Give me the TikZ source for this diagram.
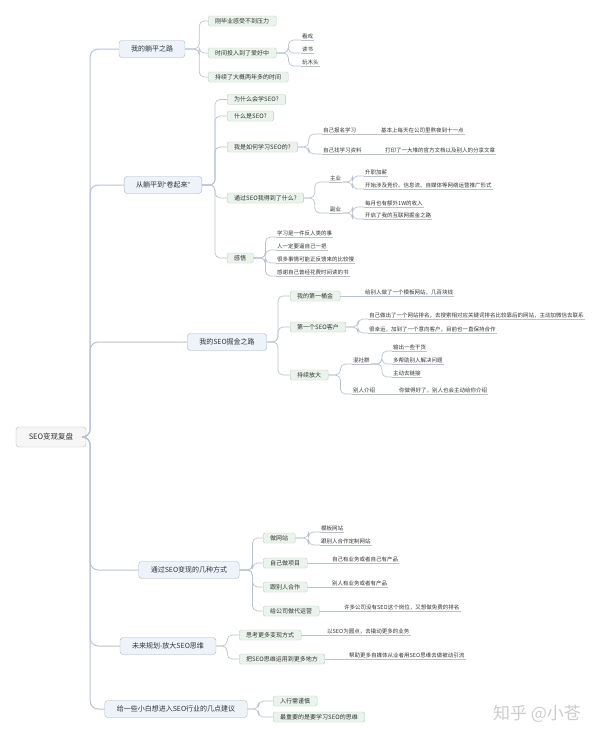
\documentclass[tikz,border=0pt]{standalone}
\usepackage{fontspec}
\setmainfont{Noto Sans CJK SC}
\newfontfamily\latinfont{Liberation Sans}
\usepackage{xcolor}
\usepackage{tikz}
\usetikzlibrary{positioning}
\definecolor{linkgray}{HTML}{B9C3D0}
\definecolor{topicfill}{HTML}{EEF3FA}
\definecolor{topicdraw}{HTML}{A7B5C8}
\definecolor{subfill}{HTML}{EBF4EC}
\definecolor{subdraw}{HTML}{B4CDB8}
\definecolor{txt}{HTML}{333333}

\begin{document}
\begin{tikzpicture}[
    x=1pt, y=-1pt,
    root/.style={draw=gray!55, fill=gray!7, rounded corners=3pt, minimum width=70pt, minimum height=20pt, inner sep=0pt, font=\fontsize{7.5}{9}\selectfont, text=txt},
    topic/.style={draw=topicdraw, fill=topicfill, rounded corners=3pt, minimum height=17pt, inner xsep=12pt, inner ysep=0pt, font=\fontsize{7}{8}\selectfont, text=txt},
    subtopic/.style={draw=subdraw, fill=subfill, rounded corners=1.5pt, minimum height=10pt, inner xsep=7pt, inner ysep=0pt, anchor=west, font=\fontsize{6}{7}\selectfont, text=txt},
    leaf/.style={inner xsep=1pt, inner ysep=1pt, anchor=south west, font=\fontsize{5.5}{6}\selectfont, text=txt},
    trunk/.style={draw=linkgray, line width=1pt, rounded corners=8pt},
    link/.style={draw=linkgray, line width=0.7pt, rounded corners=5pt},
    underline/.style={draw=linkgray, line width=0.6pt}
]
\useasboundingbox (0,0) rectangle (600,739);

% root and main topics
\node[root] (root) at (51,437) {SEO变现复盘};
\node[topic] (b1) at (152,49) {我的躺平之路};
\node[topic] (b2) at (163,185) {从躺平到{\latinfont “}卷起来{\latinfont ”}};
\node[topic] (b3) at (227,342) {我的SEO掘金之路};
\node[topic] (b4) at (189,570) {通过SEO变现的几种方式};
\node[topic] (b5) at (168,646) {未来规划-放大SEO思维};
\node[topic] (b6) at (176,709) {给一些小白想进入SEO行业的几点建议};

% branch 1
\node[subtopic] (c11) at (208,21) {刚毕业感受不到压力};
\node[subtopic] (c12) at (208,53) {时间投入到了爱好中};
\node[subtopic] (c13) at (208,77) {持续了大概两年多的时间};
\node[leaf] (l121) at (301,40) {看戏};
\node[leaf] (l122) at (301,53) {读书};
\node[leaf] (l123) at (301,66) {玩木头};

% branch 2
\node[subtopic] (c21) at (227,99.5) {为什么会学SEO?};
\node[subtopic] (c22) at (227,116) {什么是SEO?};
\node[subtopic] (c23) at (227,147) {我是如何学习SEO的?};
\node[subtopic] (c24) at (227,198) {通过SEO我得到了什么?};
\node[subtopic] (c25) at (227,258) {感悟};
\node[leaf] (l231) at (322,134) {自己报名学习};
\node[leaf] (l232) at (322,154) {自己找学习资料};
\node[leaf] (l2311) at (380,134) {基本上每天在公司里熬夜到十一点};
\node[leaf] (l2321) at (384,154) {打印了一大堆的官方文档以及别人的分享文章};
\node[leaf] (l241) at (329,182) {主业};
\node[leaf] (l242) at (329,213) {副业};
\node[leaf] (l2411) at (364,176) {升职加薪};
\node[leaf] (l2412) at (364,189) {开始涉及竞价、信息流、自媒体等网络运营推广形式};
\node[leaf] (l2421) at (364,207) {每月也有额外1W的收入};
\node[leaf] (l2422) at (364,219) {开启了我的互联网掘金之路};
\node[leaf] (l251) at (276,237) {学习是一件反人类的事};
\node[leaf] (l252) at (276,250) {人一定要逼自己一把};
\node[leaf] (l253) at (276,263) {很多事情可能正反馈来的比较慢};
\node[leaf] (l254) at (276,276) {感谢自己曾经花费时间读的书};

% branch 3
\node[subtopic] (c31) at (290,296) {我的第一桶金};
\node[subtopic] (c32) at (290,327) {第一个SEO客户};
\node[subtopic] (c33) at (290,375) {持续放大};
\node[leaf] (l311) at (364,296) {给别人做了一个模板网站，几百块钱};
\node[leaf] (l321) at (368,319) {自己做出了一个网站排名，去搜索相对应关键词排名比较靠后的网站，主动加微信去联系};
\node[leaf] (l322) at (368,333) {很幸运，加到了一个意向客户，目前也一直保持合作};
\node[leaf] (l331) at (352,364) {混社群};
\node[leaf] (l332) at (352,394) {别人介绍};
\node[leaf] (l3311) at (392,351) {输出一些干货};
\node[leaf] (l3312) at (392,364) {多帮助别人解决问题};
\node[leaf] (l3313) at (392,377) {主动去链接};
\node[leaf] (l3321) at (398,394) {你做得好了，别人也会主动给你介绍};

% branch 4
\node[subtopic] (c41) at (263,538) {做网站};
\node[subtopic] (c42) at (263,563) {自己做项目};
\node[subtopic] (c43) at (263,587) {跟别人合作};
\node[subtopic] (c44) at (263,611) {给公司做代运营};
\node[leaf] (l411) at (320,532) {模板网站};
\node[leaf] (l412) at (320,545) {跟别人合作定制网站};
\node[leaf] (l421) at (331,563) {自己有业务或者自己有产品};
\node[leaf] (l431) at (331,587) {别人有业务或者有产品};
\node[leaf] (l441) at (343,611) {许多公司没有SEO这个岗位，又想做免费的排名};

% branch 5
\node[subtopic] (c51) at (239,635) {思考更多变现方式};
\node[subtopic] (c52) at (239,659) {把SEO思维运用到更多地方};
\node[leaf] (l511) at (326,635) {以SEO为圆点，去撬动更多的业务};
\node[leaf] (l521) at (348,659) {帮助更多自媒体从业者用SEO思维去做被动引流};

% branch 6
\node[subtopic] (c61) at (273,701) {入行需谨慎};
\node[subtopic] (c62) at (273,717) {最重要的是要学习SEO的思维};

\node[font=\fontsize{17}{18}\selectfont, text=gray!40] (mark) at (537,714) {知乎 @小苍};

% connectors
\foreach \b in {b1,b2,b3,b4,b5,b6}
    \draw[trunk] (root.east) -- ++(4,0) |- (\b.west);
\foreach \c in {c11,c12,c13}
    \draw[link] (b1.east) -- ++(14,0) |- (\c.west);
\foreach \c in {c21,c22,c23,c24,c25}
    \draw[link] (b2.east) -- ++(13,0) |- (\c.west);
\foreach \c in {c31,c32,c33}
    \draw[link] (b3.east) -- ++(11,0) |- (\c.west);
\foreach \c in {c41,c42,c43,c44}
    \draw[link] (b4.east) -- ++(13,0) |- (\c.west);
\foreach \c in {c51,c52}
    \draw[link] (b5.east) -- ++(11,0) |- (\c.west);
\foreach \c in {c61,c62}
    \draw[link] (b6.east) -- ++(11,0) |- (\c.west);

\foreach \l in {l121,l122,l123}
    \draw[link] (c12.east) -- ++(12,0) |- (\l.south west);
\foreach \l in {l231,l232}
    \draw[link] (c23.east) -- ++(11,0) |- (\l.south west);
\foreach \l in {l241,l242}
    \draw[link] (c24.east) -- ++(11,0) |- (\l.south west);
\foreach \l in {l2411,l2412}
    \draw[link] (l241.south east) -- ++(10,0) |- (\l.south west);
\foreach \l in {l2421,l2422}
    \draw[link] (l242.south east) -- ++(10,0) |- (\l.south west);
\foreach \l in {l251,l252,l253,l254}
    \draw[link] (c25.east) -- ++(12,0) |- (\l.south west);
\foreach \l in {l321,l322}
    \draw[link] (c32.east) -- ++(12,0) |- (\l.south west);
\foreach \l in {l331,l332}
    \draw[link] (c33.east) -- ++(12,0) |- (\l.south west);
\foreach \l in {l3311,l3312,l3313}
    \draw[link] (l331.south east) -- ++(11,0) |- (\l.south west);
\foreach \l in {l411,l412}
    \draw[link] (c41.east) -- ++(13,0) |- (\l.south west);
\draw[link] (l231.south east) -- (l2311.south west);
\draw[link] (l232.south east) -- (l2321.south west);
\draw[link] (c31.east) -- (l311.south west);
\draw[link] (l332.south east) -- (l3321.south west);
\draw[link] (c42.east) -- (l421.south west);
\draw[link] (c43.east) -- (l431.south west);
\draw[link] (c44.east) -- (l441.south west);
\draw[link] (c51.east) -- (l511.south west);
\draw[link] (c52.east) -- (l521.south west);

% underlines of plain topics
\foreach \l in {l121,l122,l123,l231,l232,l2311,l2321,l241,l242,l2411,l2412,l2421,l2422,l251,l252,l253,l254,l311,l321,l322,l331,l332,l3311,l3312,l3313,l3321,l411,l412,l421,l431,l441,l511,l521}
    \draw[underline] (\l.south west) -- (\l.south east);
\end{tikzpicture}
\end{document}
